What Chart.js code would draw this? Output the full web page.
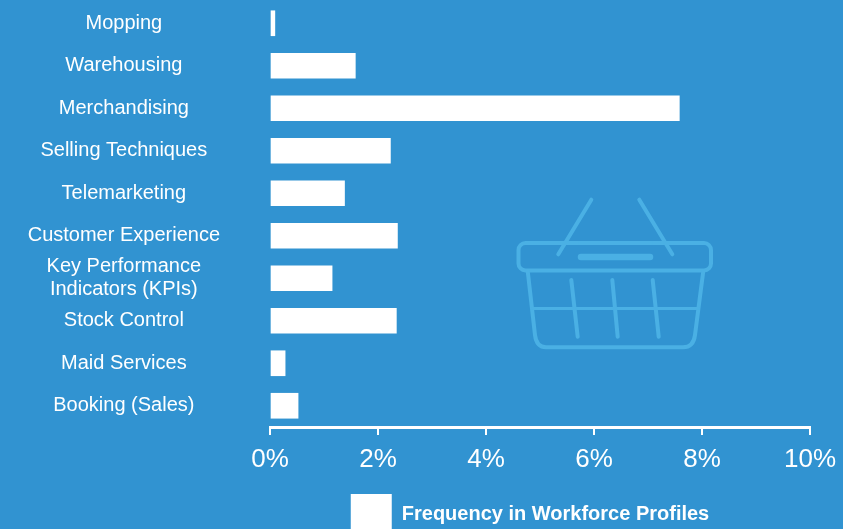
<!DOCTYPE html>
<html>
<head>
<meta charset="utf-8">
<style>
html, body { margin: 0; padding: 0; background: #3193d1; overflow: hidden; }
#wrap { position: relative; width: 843px; height: 529px; }
</style>
<script src="https://cdn.jsdelivr.net/npm/chart.js@4"></script>
</head>
<body>
<div id="wrap"><canvas id="skills"></canvas></div>
<script>
var categories = ['Mopping', 'Warehousing', 'Merchandising', 'Selling Techniques', 'Telemarketing',
    'Customer Experience', ['Key Performance', 'Indicators (KPIs)'], 'Stock Control', 'Maid Services', 'Booking (Sales)'];
var frequency = [0.09, 1.58, 7.58, 2.23, 1.38, 2.36, 1.15, 2.34, 0.28, 0.52];
var tickValues = [0, 2, 4, 6, 8, 10];
var seriesName = 'Frequency in Workforce Profiles';

// basket icon behind the bars, it's decoration so plain canvas paths
var basket = {
    id: 'basket',
    beforeDatasetsDraw: function (chart) {
        var c = chart.ctx;
        function line(x1, y1, x2, y2, w) {
            c.lineWidth = w;
            c.beginPath();
            c.moveTo(x1, y1);
            c.lineTo(x2, y2);
            c.stroke();
        }
        c.save();
        c.strokeStyle = '#4ab0e4';
        c.lineCap = 'round';
        c.lineWidth = 4;
        c.beginPath();
        c.roundRect(518.5, 243, 192.5, 27.5, 7);
        c.stroke();
        c.beginPath();
        c.moveTo(527.7, 271);
        c.lineTo(535, 335);
        c.quadraticCurveTo(536.5, 347.3, 546, 347.3);
        c.lineTo(683, 347.3);
        c.quadraticCurveTo(693.5, 347.3, 695, 335);
        c.lineTo(703.3, 271);
        c.stroke();
        line(558.3, 254.3, 591.3, 199.7, 4);
        line(639.3, 199.7, 672.3, 254.3, 4);
        line(580, 243, 651, 243, 4);
        line(581, 257, 650, 257, 6.5);
        line(533, 308.5, 698, 308.5, 3);
        line(571.3, 280, 577.7, 336.7, 4);
        line(612.3, 280, 617.7, 336.7, 4);
        line(652.7, 280, 658.7, 336.7, 4);
        c.restore();
    }
};

// legend sits right of the page centre and runs off the bottom edge
var moveLegend = {
    id: 'moveLegend',
    afterLayout: function (chart) {
        var lg = chart.legend;
        lg.left += 125;
        lg.right += 125;
        lg.top = 494 - lg.options.labels.padding;
    }
};

var chart = new Chart(document.getElementById('skills').getContext('2d'), {
    type: 'bar',
    data: {
        labels: categories,
        datasets: [{
            label: seriesName,
            data: frequency,
            backgroundColor: '#ffffff',
            borderWidth: 0,
            barThickness: 25
        }]
    },
    options: {
        indexAxis: 'y',
        responsive: true,
        maintainAspectRatio: false,
        animation: false,
        layout: { padding: { top: 2, right: 33, bottom: 0, left: 0 } },
        plugins: {
            tooltip: { enabled: false },
            legend: {
                position: 'bottom',
                align: 'center',
                labels: {
                    color: '#ffffff',
                    boxWidth: 41,
                    boxHeight: 41,
                    padding: 4,
                    font: { family: '"Liberation Sans"', size: 20, weight: 'bold' }
                }
            }
        },
        scales: {
            x: {
                min: 0,
                max: 10,
                afterBuildTicks: function (axis) {
                    axis.ticks = tickValues.map(function (v) { return { value: v }; });
                },
                // tick padding also pads the scale's ends, so clear that here
                afterFit: function (axis) {
                    axis.height = 47;
                    axis.paddingLeft = 0;
                    axis.paddingRight = 0;
                },
                border: { color: '#ffffff', width: 3 },
                grid: { drawOnChartArea: false, color: '#ffffff', lineWidth: 2, tickLength: 8 },
                ticks: {
                    color: '#ffffff',
                    maxRotation: 0,
                    padding: 9,
                    font: { family: '"Liberation Sans"', size: 26 },
                    callback: function (v) { return v + '%'; }
                }
            },
            y: {
                afterFit: function (axis) {
                    axis.width = 270;
                    axis.paddingTop = 0;
                    axis.paddingBottom = 0;
                },
                border: { display: false },
                grid: { display: false, drawTicks: false },
                ticks: {
                    color: '#ffffff',
                    crossAlign: 'center',
                    padding: 50,
                    autoSkip: false,
                    font: { family: '"Liberation Sans"', size: 20, lineHeight: 1.15 }
                }
            }
        }
    },
    plugins: [basket, moveLegend]
});
</script>
</body>
</html>
